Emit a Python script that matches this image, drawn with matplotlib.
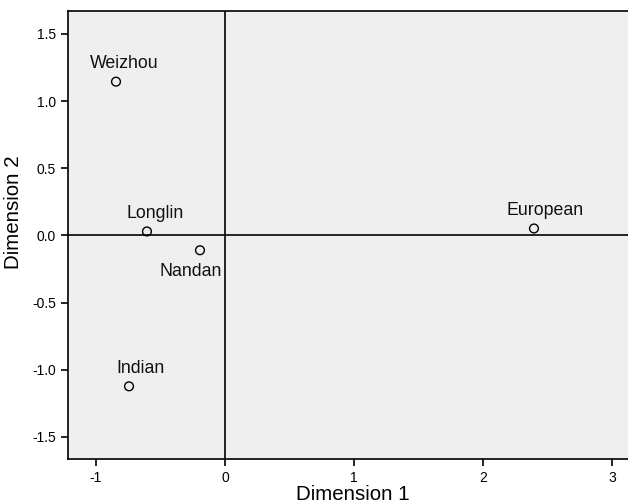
import matplotlib
matplotlib.use("Agg")
import matplotlib.pyplot as plt

plt.rcParams['font.family'] = ['Liberation Sans', 'DejaVu Sans']
plt.rcParams['axes.unicode_minus'] = False

labels = ["Weizhou", "Longlin", "Nandan", "European", "Indian"]
dim1 = [-0.845, -0.605, -0.194, 2.395, -0.744]
dim2 = [1.145, 0.030, -0.110, 0.052, -1.123]
# label offsets in points (dx, dy), relative to marker
offsets = [(6, 13), (6, 13), (-7, -15), (8, 13), (8, 13)]

xticks = [-1, 0, 1, 2, 3]
yticks = [-1.5, -1.0, -0.5, 0.0, 0.5, 1.0, 1.5]
yticklabels = ["-1.5", "-1.0", "-0.5", "0.0", "0.5", "1.0", "1.5"]

fig = plt.figure(figsize=(6.28, 5.01), dpi=100)
ax = fig.add_axes([68/628, 42/501, 1 - 68/628, (459-11)/501])
ax.set_facecolor('#efefef')

ax.axhline(0, color='black', lw=1.2, zorder=1)
ax.axvline(0, color='black', lw=1.2, zorder=1)

ax.scatter(dim1, dim2, s=40, facecolors='none', edgecolors='black', linewidths=1.0, zorder=3)
for lab, x, y, (dx, dy) in zip(labels, dim1, dim2, offsets):
    ax.annotate(lab, (x, y), xytext=(dx, dy), textcoords='offset points',
                ha='center', va='center', fontsize=12.8, color='#111111')

ax.set_xlim(-1.217, 3.124)
ax.set_ylim(-1.664, 1.671)
ax.set_xticks(xticks)
ax.set_yticks(yticks)
ax.set_yticklabels(yticklabels)
ax.tick_params(direction='out', length=5, width=1.2, labelsize=10, colors='black')
for s in ['top', 'left', 'bottom']:
    ax.spines[s].set_linewidth(1.2)
ax.spines['right'].set_visible(False)

ax.set_xlabel("Dimension 1", fontsize=14.8)
ax.set_ylabel("Dimension 2", fontsize=14.8)
ax.xaxis.set_label_coords(0.509, -0.058)
ax.yaxis.set_label_coords(-0.08, 0.551)

fig.savefig("out.png", dpi=100)
